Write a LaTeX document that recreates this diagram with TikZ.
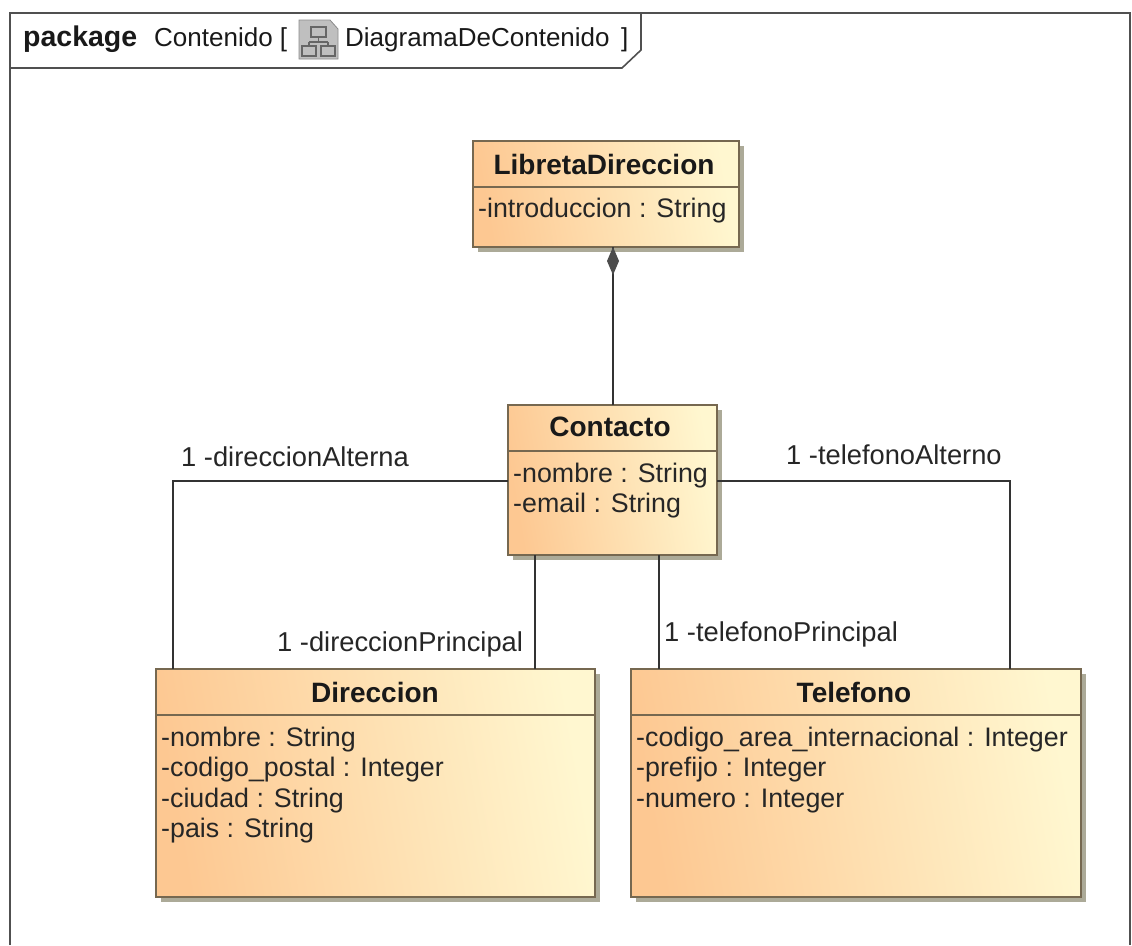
\documentclass[tikz,border=0pt]{standalone}
\usepackage{fontspec}
\setmainfont{Liberation Sans}
\usetikzlibrary{calc}
\definecolor{umlorange}{RGB}{253,200,146}
\definecolor{umlyellow}{RGB}{255,247,208}
\definecolor{umlline}{RGB}{118,104,80}
\definecolor{umlshadow}{RGB}{172,170,152}
\definecolor{frameline}{RGB}{80,80,80}
\tikzset{
  classbox/.style={draw=umlline,line width=1.4pt,rectangle,inner sep=0pt,outer sep=0pt,
    left color=umlorange,right color=umlyellow,shading angle=100,anchor=north west,
    preaction={fill=umlshadow,transform canvas={xshift=5pt,yshift=-5pt}}},
  classname/.style={font=\fontsize{28}{32}\selectfont\bfseries,anchor=center,text=black!90},
  attrs/.style={font=\fontsize{26.8}{30.2}\selectfont,align=left,anchor=north west,inner sep=0pt,text=black!85},
  role/.style={font=\fontsize{27.3}{30}\selectfont,anchor=base west,inner sep=0pt,text=black!85},
  conn/.style={draw=black!80,line width=1.5pt},
  framepath/.style={draw=frameline,line width=1.6pt},
  tabtext/.style={font=\fontsize{26}{30}\selectfont,anchor=base west,inner sep=0pt,text=black!90},
  sep/.style={draw=umlline,line width=1.2pt},
}
\begin{document}
\begin{tikzpicture}[x=1pt,y=-1pt]
\useasboundingbox (0,0) rectangle (1132,945);
\fill[white] (0,0) rectangle (1132,945);
% frame
\draw[framepath] (10,945) -- (10,13) -- (1130,13) -- (1130,945);
\draw[framepath] (10,68) -- (622,68) -- (641,50) -- (641,13);
\node[tabtext,font=\fontsize{28.5}{30}\selectfont\bfseries] (kw) at (23,46) {package};
\node[tabtext] (pk) at (154,46) {Contenido [};
\node[tabtext] (dn) at (345,46) {DiagramaDeContenido};
\node[tabtext] (br) at (621,46) {]};
% icon
\fill[black!25,draw=black!45,line width=0.8pt] (299,20) -- (330,20) -- (338,29) -- (338,59) -- (299,59) -- cycle;
\draw[black!60,line width=1.2pt] (311,27) rectangle (326,37) (318.5,37) -- (318.5,42) (309,42) -- (328,42) (309,42) -- (309,46) (328,42) -- (328,46)
  (302,46) rectangle (316,56) (321,46) rectangle (335,56);
% classes
\node[classbox,minimum width=266pt,minimum height=106pt] (lib) at (473,141) {};
\node[classbox,minimum width=209pt,minimum height=150pt] (con) at (508,405) {};
\node[classbox,minimum width=439pt,minimum height=228pt] (dir) at (156,669) {};
\node[classbox,minimum width=450pt,minimum height=228pt] (tel) at (631,669) {};
\draw[sep] (lib.west |- 0,187) -- (lib.east |- 0,187);
\draw[sep] (con.west |- 0,451) -- (con.east |- 0,451);
\draw[sep] (dir.west |- 0,715) -- (dir.east |- 0,715);
\draw[sep] (tel.west |- 0,715) -- (tel.east |- 0,715);
\node[classname] (libn) at (604,164) {LibretaDireccion};
\node[classname] (conn) at (610,427) {Contacto};
\node[classname] (dirn) at (375,692) {Direccion};
\node[classname] (teln) at (854,692) {Telefono};
\node[attrs] (liba) at (478,198) {-introduccion : String};
\node[attrs] (cona) at (513,463) {-nombre : String\\-email : String};
\node[attrs] (dira) at (161,727) {-nombre : String\\-codigo\_postal : Integer\\-ciudad : String\\-pais : String};
\node[attrs] (tela) at (636,727) {-codigo\_area\_internacional : Integer\\-prefijo : Integer\\-numero : Integer};
% connectors
\draw[conn] ([xshift=140pt]lib.south west) -- ([xshift=105pt]con.north west);
\fill[black!70] ([xshift=140pt]lib.south west) -- ++(6,14) -- ++(-6,14) -- ++(-6,-14) -- cycle;
\draw[conn] (con.west |- 0,481) -| ([xshift=17pt]dir.north west);
\draw[conn] (con.east |- 0,481) -| ([xshift=379pt]tel.north west);
\draw[conn] ([xshift=27pt]con.south west) -- ([xshift=379pt]dir.north west);
\draw[conn] ([xshift=151pt]con.south west) -- ([xshift=28pt]tel.north west);
% roles
\node[role] (r1) at (181,466) {1 -direccionAlterna};
\node[role] (r2) at (786,464) {1 -telefonoAlterno};
\node[role] (r3) at (277,651) {1 -direccionPrincipal};
\node[role] (r4) at (664,641) {1 -telefonoPrincipal};
\end{tikzpicture}
\end{document}
